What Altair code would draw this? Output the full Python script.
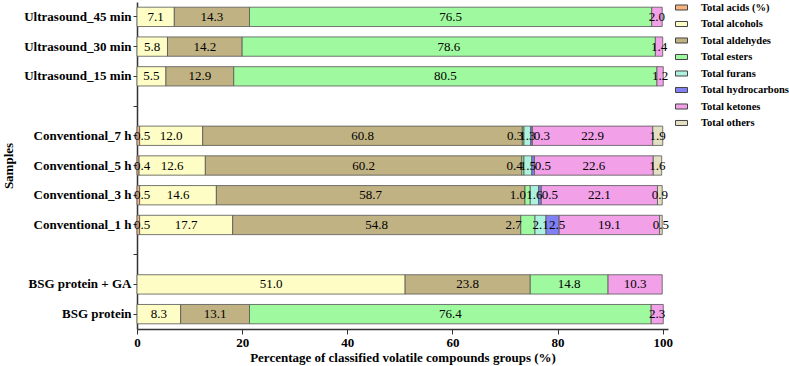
import altair as alt
import pandas as pd

# Sample rows, top to bottom; the two "gap" entries are empty spacer rows
samples = [
    "Ultrasound_45 min", "Ultrasound_30 min", "Ultrasound_15 min", "gap_a",
    "Conventional_7 h", "Conventional_5 h", "Conventional_3 h", "Conventional_1 h",
    "gap_b", "BSG protein + GA", "BSG protein",
]

groups = [
    "Total acids (%)", "Total alcohols", "Total aldehydes", "Total esters",
    "Total furans", "Total hydrocarbons", "Total ketones", "Total others",
]

colors = [
    "#F8B27E", "#FDFDC5", "#C0B282", "#9FFA9F",
    "#ACF2DE", "#8080F2", "#F2A1E8", "#E2DFC2",
]

# Percentages per sample, in the order of `groups`
us_45 = [0, 7.1, 14.3, 76.5, 0, 0, 2.0, 0]
us_30 = [0, 5.8, 14.2, 78.6, 0, 0, 1.4, 0]
us_15 = [0, 5.5, 12.9, 80.5, 0, 0, 1.2, 0]
conv_7 = [0.5, 12.0, 60.8, 0.3, 1.3, 0.3, 22.9, 1.9]
conv_5 = [0.4, 12.6, 60.2, 0.4, 1.5, 0.5, 22.6, 1.6]
conv_3 = [0.5, 14.6, 58.7, 1.0, 1.6, 0.5, 22.1, 0.9]
conv_1 = [0.5, 17.7, 54.8, 2.7, 2.1, 2.5, 19.1, 0.5]
bsg_ga = [0, 51.0, 23.8, 14.8, 0, 0, 10.3, 0]
bsg = [0, 8.3, 13.1, 76.4, 0, 0, 2.3, 0]

series = {
    "Ultrasound_45 min": us_45,
    "Ultrasound_30 min": us_30,
    "Ultrasound_15 min": us_15,
    "Conventional_7 h": conv_7,
    "Conventional_5 h": conv_5,
    "Conventional_3 h": conv_3,
    "Conventional_1 h": conv_1,
    "BSG protein + GA": bsg_ga,
    "BSG protein": bsg,
}

rows = []
for sample, vals in series.items():
    for gi, (g, v) in enumerate(zip(groups, vals)):
        if v > 0:
            rows.append({"sample": sample, "group": g, "gi": gi, "value": v})
df = pd.DataFrame(rows)

FONT = "Liberation Serif"

base = (
    alt.Chart(df)
    .transform_stack(
        stack="value",
        groupby=["sample"],
        as_=["x0", "x1"],
        sort=[alt.SortField("gi", order="ascending")],
    )
    .transform_calculate(mid="(datum.x0 + datum.x1) / 2")
)

y_scale = alt.Scale(domain=samples, paddingInner=0.35, paddingOuter=0.175)
x_scale = alt.Scale(domain=[0, 101], nice=False)

y_enc = alt.Y(
    "sample:N",
    scale=y_scale,
    axis=alt.Axis(
        title="Samples",
        labelExpr="indexof(datum.value, 'gap') == 0 ? '' : datum.value",
        labelFont=FONT,
        labelFontSize=13,
        labelFontWeight="bold",
        labelColor="#000000",
        labelPadding=2,
        tickSize=4,
        tickColor="#333333",
        domainColor="#333333",
        domainWidth=1.5,
        titleFont=FONT,
        titleFontSize=13,
        titleFontWeight="bold",
        titleColor="#000000",
        titleAngle=270,
        titleX=-129,
        titleY=163.5,
        titleAlign="center",
        titleBaseline="middle",
    ),
)

bars = base.mark_bar(stroke="#555555", strokeWidth=0.8).encode(
    x=alt.X(
        "x0:Q",
        scale=x_scale,
        axis=alt.Axis(
            title="Percentage of classified volatile compounds groups (%)",
            values=[0, 20, 40, 60, 80, 100],
            grid=False,
            labelFlush=False,
            labelFont=FONT,
            labelFontSize=13,
            labelFontWeight="bold",
            labelColor="#000000",
            labelPadding=2,
            tickSize=5,
            tickColor="#333333",
            domainColor="#333333",
            domainWidth=1.5,
            titleFont=FONT,
            titleFontSize=13,
            titleFontWeight="bold",
            titleColor="#000000",
            titlePadding=2,
        ),
    ),
    x2="x1:Q",
    y=y_enc,
    color=alt.Color(
        "group:N",
        scale=alt.Scale(domain=groups, range=colors),
        legend=alt.Legend(
            title=None,
            orient="none",
            legendX=538,
            legendY=-1,
            padding=0,
            symbolType="M-1,-0.42L1,-0.42L1,0.42L-1,0.42Z",
            symbolSize=144,
            symbolStrokeColor="#444444",
            symbolStrokeWidth=1,
            symbolOpacity=1,
            labelFont=FONT,
            labelFontSize=10.5,
            labelFontWeight="bold",
            labelColor="#000000",
            labelOffset=13,
            rowPadding=4.5,
        ),
    ),
)

text_style = dict(font=FONT, fontSize=13, color="#000000", baseline="middle")
y_plain = alt.Y("sample:N", scale=y_scale)
txt = alt.Text("value:Q", format=".1f")

# Narrow ester segments: label ends where the segment begins
small_ester = "datum.group == 'Total esters' && datum.value < 3"
# Narrow hydrocarbon segments: label starts just inside the segment
small_hydro = "datum.group == 'Total hydrocarbons' && datum.value < 3"
# Acid segments hug the axis: label starts at the segment
acid = "datum.group == 'Total acids (%)'"

labels_mid = base.transform_filter(
    f"!({small_ester}) && !({small_hydro}) && !({acid})"
).mark_text(align="center", **text_style).encode(
    x=alt.X("mid:Q", scale=x_scale), y=y_plain, text=txt
)

labels_ester = base.transform_filter(small_ester).mark_text(
    align="right", dx=1, **text_style
).encode(x=alt.X("x0:Q", scale=x_scale), y=y_plain, text=txt)

labels_hydro = base.transform_filter(small_hydro).mark_text(
    align="left", dx=3, **text_style
).encode(x=alt.X("x0:Q", scale=x_scale), y=y_plain, text=txt)

labels_acid = base.transform_filter(acid).mark_text(
    align="left", dx=-3, **text_style
).encode(x=alt.X("x0:Q", scale=x_scale), y=y_plain, text=txt)

chart = (
    alt.layer(bars, labels_mid, labels_ester, labels_hydro, labels_acid)
    .properties(
        width=531,
        height=327,
        autosize=alt.AutoSizeParams(type="none"),
        padding={"left": 137, "top": 2, "right": 121, "bottom": 37},
    )
    .configure_view(stroke=None)
)

chart.save("out.html", embed_options={"renderer": "svg", "actions": False})
